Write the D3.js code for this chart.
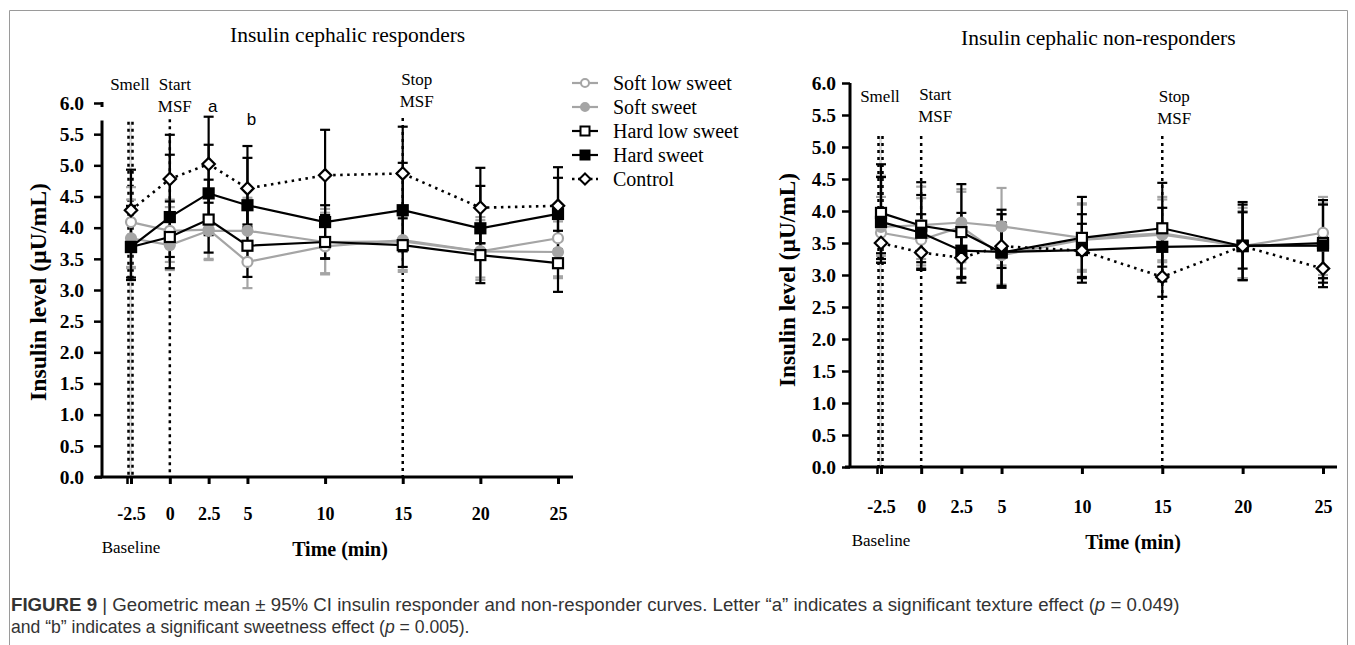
<!DOCTYPE html>
<html>
<head>
<meta charset="utf-8">
<script src="https://cdn.jsdelivr.net/npm/d3@7/dist/d3.min.js"></script>
<style>
  body { margin: 0; background: #fff; }
  svg text { font-family: "Liberation Serif", "Times New Roman", serif; fill: #000; }
</style>
</head>
<body>
<svg width="1355" height="645"></svg>
<script>
// ---- data ----
var timePoints = [-2.5, 0, 2.5, 5, 10, 15, 20, 25];
var xTickLabels = ["-2.5", "0", "2.5", "5", "10", "15", "20", "25"];
var yTickValues = [0, 0.5, 1, 1.5, 2, 2.5, 3, 3.5, 4, 4.5, 5, 5.5, 6];
var seriesNames = ["Soft low sweet", "Soft sweet", "Hard low sweet", "Hard sweet", "Control"];

// responders (geometric mean, lower CI, upper CI)
var respSoftLow     = [4.09, 3.95, 3.97, 3.45, 3.70, 3.80, 3.62, 3.83];
var respSoftLowLo   = [3.37, 3.32, 3.48, 3.03, 3.27, 3.29, 3.16, 3.19];
var respSoftLowHi   = [4.65, 4.45, 4.52, 4.05, 4.24, 4.35, 4.17, 4.15];
var respSoftSweet   = [3.83, 3.72, 3.95, 3.95, 3.77, 3.78, 3.62, 3.61];
var respSoftSweetLo = [3.35, 3.45, 3.50, 3.50, 3.25, 3.32, 3.20, 3.22];
var respSoftSweetHi = [4.45, 4.33, 4.48, 4.48, 4.30, 4.22, 4.12, 4.10];
var respHardLow     = [3.69, 3.85, 4.13, 3.71, 3.77, 3.72, 3.56, 3.43];
var respHardLowLo   = [3.20, 3.35, 3.60, 3.21, 3.50, 3.37, 3.11, 2.97];
var respHardLowHi   = [4.30, 4.42, 4.77, 4.30, 4.20, 4.20, 4.02, 3.95];
var respHardSweet   = [3.69, 4.17, 4.55, 4.36, 4.09, 4.28, 3.99, 4.22];
var respHardSweetLo = [3.16, 3.53, 3.88, 4.01, 3.51, 3.62, 3.75, 3.65];
var respHardSweetHi = [4.35, 5.17, 5.33, 5.12, 4.36, 5.04, 4.67, 4.80];
var respControl     = [4.28, 4.78, 5.02, 4.63, 4.84, 4.87, 4.32, 4.35];
var respControlLo   = [3.70, 4.10, 4.40, 4.05, 4.20, 4.15, 3.75, 3.80];
var respControlHi   = [4.93, 5.49, 5.78, 5.31, 5.57, 5.62, 4.96, 4.97];

// non-responders
var nonSoftLow      = [3.66, 3.55, 3.75, 3.31, 3.55, 3.63, 3.45, 3.66];
var nonSoftLowLo    = [3.20, 3.15, 3.10, 2.85, 3.08, 3.23, 2.95, 3.00];
var nonSoftLowHi    = [4.22, 4.20, 4.34, 3.95, 4.10, 4.18, 4.00, 4.22];
var nonSoftSweet    = [3.75, 3.78, 3.82, 3.76, 3.58, 3.65, 3.45, 3.46];
var nonSoftSweetLo  = [3.30, 3.25, 3.20, 3.15, 3.05, 3.20, 2.95, 2.95];
var nonSoftSweetHi  = [4.55, 4.38, 4.30, 4.36, 4.12, 4.22, 4.05, 4.12];
var nonHardLow      = [3.97, 3.77, 3.67, 3.35, 3.58, 3.73, 3.45, 3.50];
var nonHardLowLo    = [3.25, 3.20, 2.97, 2.83, 2.97, 3.13, 2.92, 2.95];
var nonHardLowHi    = [4.73, 4.45, 4.42, 4.02, 4.22, 4.44, 4.14, 4.17];
var nonHardSweet    = [3.83, 3.66, 3.38, 3.36, 3.39, 3.44, 3.46, 3.46];
var nonHardSweetLo  = [3.19, 3.08, 2.88, 2.80, 2.88, 2.90, 2.92, 2.81];
var nonHardSweetHi  = [4.53, 4.25, 3.97, 3.95, 3.95, 4.05, 4.10, 4.10];
var nonControl      = [3.50, 3.35, 3.27, 3.45, 3.38, 2.97, 3.45, 3.10];
var nonControlLo    = [3.34, 3.10, 2.95, 3.11, 2.95, 2.66, 3.10, 2.88];
var nonControlHi    = [4.00, 3.95, 3.70, 3.82, 3.80, 3.45, 3.98, 3.60];

var eventTimes = [-2.5, 0, 15];
var eventLabels = [["Smell"], ["Start", "MSF"], ["Stop", "MSF"]];
var letterTimes = [2.5, 5];
var letterLabels = ["a", "b"];
var letterLevels = [5.86, 5.65];

// ---- styles ----
var grey = "#a5a5a5";
var seriesStyle = [
  { color: grey,   marker: "circle",  fill: "#fff", dash: null },
  { color: grey,   marker: "circle",  fill: grey,   dash: null },
  { color: "#000", marker: "square",  fill: "#fff", dash: null },
  { color: "#000", marker: "square",  fill: "#000", dash: null },
  { color: "#000", marker: "diamond", fill: "#fff", dash: "2.5,4.5" }
];

var svg = d3.select("svg");

// frame around the figure
svg.append("path")
  .attr("d", "M9.5,645 V10.5 H1347.5 V645")
  .attr("fill", "none")
  .attr("stroke", "#9a9a9a")
  .attr("stroke-width", 1);

function drawMarker(sel, type, size) {
  if (type === "circle") {
    sel.append("circle").attr("r", size * 0.5);
  } else if (type === "square") {
    sel.append("rect").attr("x", -size / 2).attr("y", -size / 2)
      .attr("width", size).attr("height", size);
  } else {
    var h = size * 0.62;
    sel.append("path").attr("d", "M0," + (-h) + "L" + h + ",0L0," + h + "L" + (-h) + ",0Z");
  }
}

function drawPanel(p) {
  var x = d3.scaleLinear().domain([-2.5, 25]).range(p.xRange);
  var y = d3.scaleLinear().domain([0, 6]).range(p.yRange);
  var g = svg.append("g");

  // title
  g.append("text")
    .attr("x", p.titleX).attr("y", p.titleY)
    .style("font-size", "21.5px")
    .text(p.title);

  // event lines (smell is drawn doubled)
  eventTimes.forEach(function(t, i) {
    var xs = i === 0 ? [x(t) - 2.5, x(t) + 1.5] : [x(t)];
    if (i === 0) {
      g.append("line")
        .attr("x1", x(t) - 0.5).attr("x2", x(t) - 0.5)
        .attr("y1", y(p.eventTop[i])).attr("y2", y(0))
        .attr("stroke", "#dcdcdc").attr("stroke-width", 3);
    }
    xs.forEach(function(xx) {
      g.append("line")
        .attr("x1", xx).attr("x2", xx)
        .attr("y1", y(p.eventTop[i])).attr("y2", y(0))
        .attr("stroke", "#000").attr("stroke-width", 2.5)
        .attr("stroke-dasharray", "3,4");
    });
    var lab = g.append("text")
      .attr("text-anchor", "middle")
      .style("font-size", "17px");
    eventLabels[i].forEach(function(s, k) {
      lab.append("tspan")
        .attr("x", x(t) + p.labelDx[i])
        .attr("y", p.labelY[i] + k * 22)
        .text(s);
    });
  });

  // significance letters
  if (p.letters) {
    letterTimes.forEach(function(t, i) {
      g.append("text")
        .attr("x", x(t) + 4).attr("y", y(letterLevels[i]))
        .attr("text-anchor", "middle")
        .style("font-family", "'Liberation Sans', Arial, sans-serif")
        .style("font-size", "17px")
        .text(letterLabels[i]);
    });
  }

  // y axis
  var yAxis = d3.axisLeft(y)
    .tickValues(yTickValues)
    .tickFormat(d3.format(".1f"))
    .tickSize(8)
    .tickPadding(p.yPad);
  var ya = g.append("g").attr("transform", "translate(" + p.yAxisX + ",0)").call(yAxis);
  ya.select(".domain").remove();
  ya.selectAll(".tick line").attr("stroke", "#000").attr("stroke-width", 2.5);
  ya.selectAll(".tick text")
    .style("font-family", "'Liberation Serif', serif")
    .style("font-weight", "bold")
    .style("font-size", "19.5px");
  g.append("line")
    .attr("x1", p.yAxisX).attr("x2", p.yAxisX)
    .attr("y1", y(p.yAxisTop)).attr("y2", y(0) + 1)
    .attr("stroke", "#000").attr("stroke-width", 3);
  if (p.yAxisTop < 6) {
    g.append("line")
      .attr("x1", p.yAxisX).attr("x2", p.yAxisX)
      .attr("y1", y(6) - 1).attr("y2", y(6) + 4)
      .attr("stroke", "#000").attr("stroke-width", 3);
  }

  // x axis
  var xAxis = d3.axisBottom(x)
    .tickValues(timePoints)
    .tickFormat(function(d, i) { return xTickLabels[i]; })
    .tickSize(7)
    .tickPadding(p.xPad);
  var xa = g.append("g").attr("transform", "translate(0," + y(0) + ")").call(xAxis);
  xa.select(".domain").remove();
  xa.selectAll(".tick line").attr("stroke", "#000").attr("stroke-width", 3);
  xa.selectAll(".tick text")
    .style("font-family", "'Liberation Serif', serif")
    .style("font-weight", "bold")
    .style("font-size", "18px");
  // extra tick of the doubled smell line
  g.append("line")
    .attr("x1", x(-2.5) - 3.5).attr("x2", x(-2.5) - 3.5)
    .attr("y1", y(0)).attr("y2", y(0) + 7)
    .attr("stroke", "#000").attr("stroke-width", 2.5);
  g.append("line")
    .attr("x1", p.xAxisStart).attr("x2", p.xAxisEnd)
    .attr("y1", y(0)).attr("y2", y(0))
    .attr("stroke", "#000").attr("stroke-width", 3);

  g.append("text")
    .attr("x", x(-2.5)).attr("y", p.baselineY)
    .attr("text-anchor", "middle")
    .style("font-size", "17px")
    .text("Baseline");
  g.append("text")
    .attr("x", p.timeX).attr("y", p.timeY)
    .attr("text-anchor", "middle")
    .style("font-weight", "bold")
    .style("font-size", "20px")
    .text("Time (min)");

  var yl = g.append("text")
    .attr("transform", "translate(" + p.ylabX + "," + p.ylabY + ") rotate(-90)")
    .attr("text-anchor", "middle")
    .attr("dy", "0.35em")
    .style("font-weight", "bold")
    .style("font-size", "19px")
    .text("Insulin level (\u00b5U/mL)");
  var w = yl.node().getComputedTextLength();
  yl.style("font-size", (19 * p.ylabLen / w) + "px");

  // data
  var series = p.series.map(function(s, i) {
    return timePoints.map(function(t, k) {
      return { t: t, v: s[0][k], lo: s[1][k], hi: s[2][k] };
    });
  });

  // error bars
  series.forEach(function(pts, i) {
    var st = seriesStyle[i];
    var eb = g.append("g").attr("stroke", st.color).attr("stroke-width", 2.2);
    pts.forEach(function(d) {
      eb.append("line").attr("x1", x(d.t)).attr("x2", x(d.t)).attr("y1", y(d.lo)).attr("y2", y(d.hi));
      eb.append("line").attr("x1", x(d.t) - 5).attr("x2", x(d.t) + 5).attr("y1", y(d.lo)).attr("y2", y(d.lo));
      eb.append("line").attr("x1", x(d.t) - 5).attr("x2", x(d.t) + 5).attr("y1", y(d.hi)).attr("y2", y(d.hi));
    });
  });

  // lines
  var line = d3.line().x(function(d) { return x(d.t); }).y(function(d) { return y(d.v); });
  series.forEach(function(pts, i) {
    var st = seriesStyle[i];
    g.append("path")
      .datum(pts)
      .attr("d", line)
      .attr("fill", "none")
      .attr("stroke", st.color)
      .attr("stroke-width", st.dash ? 2.6 : 2.2)
      .attr("stroke-dasharray", st.dash);
  });

  // markers
  series.forEach(function(pts, i) {
    var st = seriesStyle[i];
    g.append("g").selectAll("g")
      .data(pts)
      .enter().append("g")
      .attr("transform", function(d) { return "translate(" + x(d.t) + "," + y(d.v) + ")"; })
      .attr("fill", st.fill)
      .attr("stroke", st.color)
      .attr("stroke-width", 2.2)
      .each(function() { drawMarker(d3.select(this), st.marker, 10); });
  });
}

drawPanel({
  title: "Insulin cephalic responders", titleX: 230, titleY: 42,
  xRange: [131, 558], yRange: [477, 103],
  yAxisX: 102, yAxisTop: 5.72, yPad: 10,
  xAxisStart: 95, xAxisEnd: 573, xPad: 23,
  eventTop: [5.7, 5.74, 5.76],
  labelDx: [-1, 5, 14], labelY: [90, 90, 85],
  letters: true,
  baselineY: 553, timeX: 340, timeY: 556,
  ylabX: 38, ylabY: 292, ylabLen: 218,
  series: [
    [respSoftLow, respSoftLowLo, respSoftLowHi],
    [respSoftSweet, respSoftSweetLo, respSoftSweetHi],
    [respHardLow, respHardLowLo, respHardLowHi],
    [respHardSweet, respHardSweetLo, respHardSweetHi],
    [respControl, respControlLo, respControlHi]
  ]
});

drawPanel({
  title: "Insulin cephalic non-responders", titleX: 961, titleY: 45,
  xRange: [881, 1323], yRange: [467, 83],
  yAxisX: 850, yAxisTop: 6, yPad: 6,
  xAxisStart: 845, xAxisEnd: 1337, xPad: 26,
  eventTop: [5.17, 5.17, 5.17],
  labelDx: [-1, 14, 12], labelY: [102, 100, 102],
  letters: false,
  baselineY: 546, timeX: 1133, timeY: 549,
  ylabX: 787, ylabY: 280, ylabLen: 214,
  series: [
    [nonSoftLow, nonSoftLowLo, nonSoftLowHi],
    [nonSoftSweet, nonSoftSweetLo, nonSoftSweetHi],
    [nonHardLow, nonHardLowLo, nonHardLowHi],
    [nonHardSweet, nonHardSweetLo, nonHardSweetHi],
    [nonControl, nonControlLo, nonControlHi]
  ]
});

// legend
var legend = svg.append("g").attr("transform", "translate(572,83)");
seriesNames.forEach(function(name, i) {
  var st = seriesStyle[i];
  var row = legend.append("g").attr("transform", "translate(0," + (i * 24) + ")");
  row.append("line")
    .attr("x1", 0).attr("x2", 26).attr("y1", 0).attr("y2", 0)
    .attr("stroke", st.color)
    .attr("stroke-width", st.dash ? 2.6 : 2.2)
    .attr("stroke-dasharray", st.dash ? "2.5,3.5" : null);
  var m = row.append("g")
    .attr("transform", "translate(13,0)")
    .attr("fill", st.fill).attr("stroke", st.color).attr("stroke-width", 2);
  drawMarker(m, st.marker, st.marker === "circle" ? 8 : 9);
  row.append("text")
    .attr("x", 41).attr("y", 0).attr("dy", "0.33em")
    .style("font-size", "20px")
    .text(name);
});

// caption
var capFont = "'Liberation Sans', Arial, sans-serif";
function captionLine(yPos, target, parts) {
  var t = svg.append("text")
    .attr("x", 11).attr("y", yPos)
    .style("font-family", capFont)
    .style("font-size", "15px");
  parts.forEach(function(pt) {
    t.append("tspan")
      .style("font-family", capFont)
      .style("font-weight", pt.b ? "bold" : "normal")
      .style("font-style", pt.i ? "italic" : "normal")
      .style("fill", "#333")
      .text(pt.s);
  });
  var w = t.node().getComputedTextLength();
  t.style("font-size", (15 * target / w) + "px");
}
captionLine(611, 1169, [
  { s: "FIGURE 9", b: true },
  { s: " | Geometric mean \u00b1 95% CI insulin responder and non-responder curves. Letter \u201ca\u201d indicates a significant texture effect (" },
  { s: "p", i: true },
  { s: " = 0.049)" }
]);
captionLine(633, 459, [
  { s: "and \u201cb\u201d indicates a significant sweetness effect (" },
  { s: "p", i: true },
  { s: " = 0.005)." }
]);
</script>
</body>
</html>
